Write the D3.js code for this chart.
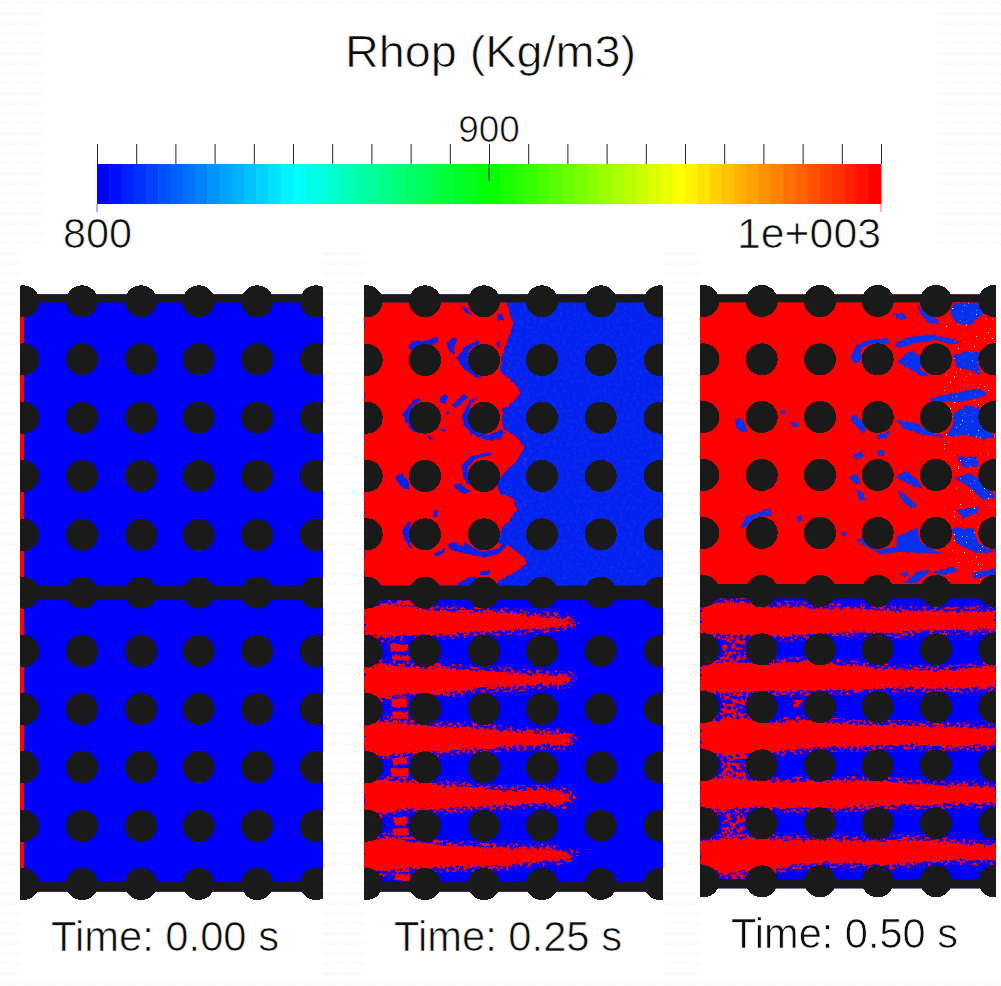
<!DOCTYPE html>
<html>
<head>
<meta charset="utf-8">
<style>
  html, body { margin: 0; padding: 0; background: #fff; }
  svg { display: block; }
  text { font-family: "Liberation Sans", sans-serif; fill: #0c0c0c; stroke: #fff; stroke-width: .7px; }
</style>
<script src="https://cdn.jsdelivr.net/npm/d3@7"></script>
</head>
<body>
<div class="chart"></div>
<script>
// Colour bar values
const barDomain = [800, 850, 900, 950, 1000];
const barColours = ["#0000ff", "#00ffff", "#00ff00", "#ffff00", "#ff0000"];
const barBands = d3.range(64);
const barTicks = d3.range(800, 1001, 10);
const barLabels = ["800", "900", "1e+003"];
const title = "Rhop (Kg/m3)";
const times = ["Time: 0.00 s", "Time: 0.25 s", "Time: 0.50 s"];

// Pillar centres, in sample units (3 units per screen pixel)
const colsA = [70, 246, 423, 596, 772, 948];
const rowsA = [64, 238, 413, 588, 765, 938, 1113, 1287, 1461, 1638, 1812];
const colsB = [50, 225, 402, 576, 752, 929];
const rowsB = [64, 240, 413, 588, 763, 938, 1113, 1287, 1462, 1637, 1812];
const colsC = [40, 215, 390, 563, 738, 913];
const rowsC = [63, 238, 411, 585, 759, 933, 1108, 1281, 1456, 1630, 1804];

// Channel walls [top, bottom]
const wallsA = [[43, 67], [917, 960], [1805, 1835]];
const wallsC = [[43, 67], [912, 955], [1798, 1825]];

// t = 0: thin film of heavy fluid on the inlet
const filmA = [[60, 67], [72, 67], [72, 1805], [60, 1805]];

// t = 0.25, upper channel: heavy fluid front and trapped light pockets
const frontB = [[42, 67], [470, 67], [490, 130], [470, 190], [455, 230], [450, 275], [490, 305], [512, 340],
  [480, 375], [455, 410], [460, 445], [500, 470], [523, 500], [500, 545], [470, 570], [440, 610], [450, 640],
  [490, 655], [502, 690], [480, 720], [455, 745], [445, 790], [480, 800], [520, 830], [530, 850], [500, 875],
  [450, 900], [440, 917], [42, 917]];
const pocketsB = [
  [[175, 205], [185, 185], [230, 180], [260, 170], [265, 185], [240, 195], [200, 205], [185, 210]],
  [[290, 190], [310, 172], [322, 178], [310, 205], [315, 220], [300, 218]],
  [[320, 235], [345, 200], [385, 180], [390, 190], [360, 205], [352, 240], [360, 265], [395, 295], [375, 290], [340, 265]],
  [[335, 80], [345, 80], [365, 105], [350, 100]],
  [[440, 105], [455, 100], [462, 120], [445, 120]],
  [[437, 190], [450, 185], [450, 205]],
  [[158, 405], [185, 365], [205, 355], [215, 360], [190, 375], [178, 405], [190, 445], [215, 460], [190, 455], [170, 430]],
  [[268, 355], [285, 342], [295, 350], [285, 370], [272, 368]],
  [[305, 375], [340, 345], [355, 350], [330, 375], [312, 382]],
  [[350, 380], [360, 360], [385, 352], [365, 368], [355, 400], [358, 430], [385, 460], [430, 462], [450, 448], [465, 455], [450, 478], [410, 480], [370, 465], [345, 440], [335, 410]],
  [[455, 385], [470, 380], [475, 395], [460, 400]],
  [[335, 555], [360, 530], [420, 515], [425, 525], [380, 535], [355, 560], [360, 600], [380, 630], [350, 610], [340, 590]],
  [[138, 585], [155, 578], [175, 605], [178, 628], [160, 625], [140, 605]],
  [[312, 615], [330, 610], [360, 635], [345, 642], [320, 630]],
  [[155, 755], [175, 725], [185, 725], [178, 750], [180, 790], [190, 805], [175, 800]],
  [[250, 695], [262, 688], [262, 710], [250, 712]],
  [[292, 795], [310, 785], [340, 800], [345, 785], [370, 805], [400, 815], [445, 805], [460, 790], [470, 800], [440, 825], [400, 832], [340, 820], [305, 810]],
  [[250, 822], [285, 805], [285, 815], [262, 830]],
  [[230, 465], [250, 475], [235, 480]],
  [[272, 445], [288, 450], [282, 460]],
  [[285, 395], [298, 395], [292, 405]],
  [[310, 917], [360, 890], [380, 895], [365, 917]],
  [[390, 875], [420, 870], [418, 885], [392, 885]]
];

// t = 0.25, lower channel: streaks and the blobs behind the first pillars
const streaksB = [
  [[42, 985], [90, 972], [180, 980], [260, 992], [350, 995], [430, 995], [490, 1000], [540, 1008], [600, 1010], [650, 1015], [670, 1027], [650, 1040], [600, 1045], [540, 1048], [470, 1050], [400, 1055], [320, 1060], [260, 1065], [180, 1065], [90, 1072], [42, 1065]],
  [[42, 1165], [90, 1150], [180, 1162], [260, 1162], [340, 1170], [430, 1172], [500, 1180], [580, 1185], [650, 1185], [664, 1196], [650, 1210], [570, 1215], [480, 1220], [400, 1225], [320, 1235], [240, 1245], [180, 1240], [100, 1252], [42, 1245]],
  [[42, 1335], [90, 1320], [170, 1330], [260, 1340], [340, 1340], [420, 1348], [500, 1355], [580, 1360], [650, 1362], [665, 1378], [640, 1395], [560, 1395], [480, 1400], [400, 1405], [320, 1410], [240, 1420], [170, 1420], [100, 1428], [42, 1420]],
  [[42, 1510], [100, 1500], [170, 1505], [260, 1515], [340, 1520], [430, 1530], [520, 1530], [600, 1530], [650, 1540], [660, 1552], [640, 1572], [560, 1570], [480, 1575], [400, 1580], [320, 1585], [240, 1590], [170, 1585], [100, 1600], [42, 1595]],
  [[42, 1685], [110, 1672], [190, 1685], [280, 1695], [360, 1700], [430, 1705], [500, 1705], [580, 1705], [640, 1715], [666, 1725], [640, 1740], [560, 1745], [480, 1755], [400, 1760], [320, 1760], [240, 1765], [180, 1765], [100, 1775], [42, 1765]]
];
const blobsB = [
  [[140, 962], [180, 962], [195, 978], [140, 972]],
  [[120, 1092], [170, 1092], [175, 1112], [122, 1115]],
  [[125, 1125], [175, 1128], [178, 1142], [130, 1140]],
  [[125, 1257], [172, 1255], [172, 1282], [125, 1283]],
  [[125, 1295], [172, 1295], [175, 1316], [130, 1316]],
  [[128, 1435], [170, 1430], [172, 1455], [130, 1456]],
  [[122, 1466], [175, 1464], [175, 1488], [125, 1490]],
  [[128, 1612], [175, 1610], [170, 1635], [135, 1636]],
  [[128, 1645], [175, 1645], [175, 1666], [128, 1666]],
  [[135, 1785], [180, 1780], [180, 1803], [135, 1803]]
];

// t = 0.50, upper channel: light pockets left inside the heavy fluid
const pocketsC = [
  [[480, 235], [500, 195], [540, 180], [590, 175], [600, 190], [545, 190], [515, 205], [512, 245], [495, 250]],
  [[610, 195], [650, 172], [720, 165], [780, 175], [810, 185], [790, 195], [740, 180], [670, 190], [630, 205]],
  [[622, 245], [660, 212], [692, 225], [692, 270], [720, 290], [690, 285]],
  [[790, 225], [830, 215], [865, 215], [870, 285], [840, 270], [800, 262]],
  [[610, 100], [640, 100], [650, 118], [620, 115]],
  [[680, 70], [700, 95], [740, 115], [745, 135], [720, 130], [690, 100]],
  [[790, 70], [860, 68], [880, 100], [840, 135], [800, 130], [780, 100]],
  [[710, 360], [760, 345], [870, 325], [890, 345], [820, 365], [740, 365]],
  [[790, 400], [830, 375], [868, 385], [875, 440], [918, 470], [880, 478], [830, 465], [790, 470], [770, 465], [790, 430]],
  [[618, 420], [680, 430], [720, 455], [765, 472], [700, 465], [640, 445]],
  [[480, 410], [500, 405], [530, 445], [520, 460], [490, 430]],
  [[135, 420], [155, 415], [172, 450], [165, 460], [140, 445]],
  [[272, 392], [285, 390], [285, 402], [275, 402]],
  [[302, 428], [320, 425], [328, 438], [310, 442]],
  [[488, 525], [515, 515], [522, 530], [500, 540]],
  [[565, 512], [585, 512], [578, 528], [565, 526]],
  [[478, 590], [500, 582], [515, 615], [490, 610]],
  [[500, 632], [515, 630], [527, 660], [510, 662]],
  [[618, 590], [650, 572], [690, 610], [700, 630], [660, 615]],
  [[622, 630], [640, 640], [678, 675], [665, 685], [640, 665]],
  [[790, 595], [840, 580], [870, 600], [918, 650], [880, 660], [830, 615]],
  [[800, 530], [860, 530], [865, 560], [820, 560]],
  [[150, 745], [170, 710], [240, 685], [245, 705], [190, 715], [165, 745]],
  [[322, 710], [335, 708], [338, 722], [322, 722]],
  [[456, 755], [470, 755], [470, 768], [456, 768]],
  [[495, 780], [515, 775], [560, 810], [620, 800], [620, 770], [680, 745], [690, 785], [740, 815], [765, 820], [700, 820], [630, 815], [570, 822]],
  [[785, 745], [850, 745], [865, 790], [918, 815], [860, 820], [800, 790]],
  [[630, 885], [650, 872], [660, 890]],
  [[645, 908], [680, 875], [725, 870], [700, 890], [680, 908]],
  [[730, 875], [790, 860], [805, 875], [750, 885]],
  [[845, 880], [918, 865], [918, 885], [850, 895]],
  [[800, 690], [870, 680], [860, 700], [820, 715]],
  [[560, 465], [600, 455], [590, 475], [565, 475]]
];
const speckleC = [[760, 67], [918, 67], [918, 912], [770, 912], [760, 500]];

// t = 0.50, lower channel
const streaksC = [
  [[30, 985], [80, 970], [150, 965], [220, 982], [300, 978], [400, 985], [500, 985], [600, 992], [700, 992], [800, 995], [918, 990], [918, 1048], [800, 1050], [700, 1050], [620, 1060], [520, 1055], [430, 1060], [350, 1065], [260, 1070], [170, 1065], [100, 1065], [30, 1060]],
  [[30, 1162], [100, 1145], [180, 1150], [260, 1148], [340, 1145], [430, 1150], [520, 1162], [620, 1168], [720, 1170], [800, 1170], [918, 1155], [918, 1220], [820, 1225], [720, 1225], [620, 1222], [500, 1230], [400, 1230], [300, 1235], [200, 1235], [100, 1240], [30, 1235]],
  [[30, 1325], [100, 1320], [170, 1315], [250, 1330], [340, 1320], [440, 1330], [540, 1335], [640, 1335], [760, 1340], [918, 1345], [918, 1395], [800, 1400], [700, 1395], [600, 1395], [500, 1400], [400, 1400], [300, 1410], [200, 1420], [100, 1425], [30, 1410]],
  [[30, 1495], [110, 1490], [180, 1500], [260, 1505], [340, 1505], [430, 1505], [560, 1500], [700, 1515], [800, 1518], [918, 1520], [918, 1572], [800, 1570], [700, 1575], [600, 1575], [500, 1580], [400, 1585], [300, 1585], [200, 1580], [100, 1590], [30, 1580]],
  [[30, 1685], [120, 1675], [220, 1675], [320, 1680], [430, 1680], [540, 1685], [640, 1678], [760, 1685], [850, 1695], [918, 1695], [918, 1740], [800, 1740], [700, 1745], [600, 1755], [500, 1750], [400, 1750], [320, 1755], [240, 1770], [150, 1775], [90, 1780], [30, 1755]]
];
const blobsC = [
  [[95, 1075], [165, 1075], [168, 1140], [100, 1145]],
  [[90, 1248], [170, 1245], [170, 1320], [90, 1320]],
  [[95, 1425], [170, 1420], [165, 1490], [95, 1490]],
  [[95, 1600], [165, 1600], [165, 1670], [95, 1670]],
  [[105, 1778], [165, 1778], [165, 1798], [105, 1798]],
  [[310, 1260], [340, 1260], [340, 1282], [310, 1282]]
];

// Layout
const width = 1001, height = 986;
const pillarRadius = 16;
const panels = [
  {id: "a", time: times[0], left: 20, right: 323, top: 280, u0: 60, u1: 969, cols: colsA, rows: rowsA, walls: wallsA, textX: 51, textW: 228, textY: 951},
  {id: "b", time: times[1], left: 364, right: 663, top: 280, u0: 42, u1: 939, cols: colsB, rows: rowsB, walls: wallsA, textX: 394, textW: 228, textY: 951},
  {id: "c", time: times[2], left: 700, right: 996, top: 280, u0: 30, u1: 918, cols: colsC, rows: rowsC, walls: wallsC, textX: 731, textW: 227, textY: 948}
];

const svg = d3.select(".chart").append("svg")
    .attr("width", width)
    .attr("height", height);
const defs = svg.append("defs");

// Faint background weave
const weave = defs.append("pattern")
    .attr("id", "weave")
    .attr("patternUnits", "userSpaceOnUse")
    .attr("width", 10)
    .attr("height", 10);
weave.append("path")
    .attr("d", "M0 5L2.5 2L5 5L7.5 2L10 5")
    .attr("fill", "none")
    .attr("stroke", "#f3f3f3");

// Jagged edge for the fluid interfaces
function jagFilter(id, scale, freq){
  const f = defs.append("filter").attr("id", id)
      .attr("x", "-5%").attr("y", "-5%").attr("width", "110%").attr("height", "110%")
      .attr("color-interpolation-filters", "sRGB");
  f.append("feTurbulence").attr("type", "fractalNoise").attr("baseFrequency", freq).attr("numOctaves", 2).attr("seed", 4).attr("result", "n");
  f.append("feDisplacementMap").attr("in", "SourceGraphic").attr("in2", "n").attr("scale", scale).attr("xChannelSelector", "R").attr("yChannelSelector", "G");
}
jagFilter("jag", 8, .3);
jagFilter("jagSmall", 3.5, .3);

// Keeps only part of a shape, picked by noise
function speckleFilter(id, freq, gain, cut, seed){
  const f = defs.append("filter").attr("id", id)
      .attr("x", "-5%").attr("y", "-5%").attr("width", "110%").attr("height", "110%")
      .attr("color-interpolation-filters", "sRGB");
  f.append("feTurbulence").attr("type", "fractalNoise").attr("baseFrequency", freq).attr("numOctaves", 2).attr("seed", seed).attr("result", "n");
  f.append("feColorMatrix").attr("in", "n").attr("type", "matrix")
      .attr("values", `0 0 0 0 0 0 0 0 0 0 0 0 0 0 0 ${gain} 0 0 0 ${cut}`).attr("result", "m");
  f.append("feComposite").attr("in", "SourceGraphic").attr("in2", "m").attr("operator", "in");
}
speckleFilter("specWhite", .5, 14, -9.9, 7);
speckleFilter("specFringe", .3, 12, -6.4, 11);
speckleFilter("specBlob", .22, 12, -5.6, 5);

// Lighter mottling over the displaced light fluid
const mottle = defs.append("filter").attr("id", "mottle")
    .attr("x", "-5%").attr("y", "-5%").attr("width", "110%").attr("height", "110%")
    .attr("color-interpolation-filters", "sRGB");
mottle.append("feTurbulence").attr("type", "fractalNoise").attr("baseFrequency", .3).attr("numOctaves", 2).attr("seed", 3).attr("result", "n");
mottle.append("feColorMatrix").attr("in", "n").attr("type", "matrix")
    .attr("values", "0 0 0 0 0 0 0 0 0 .22 0 0 0 0 1 2 0 0 0 -.85").attr("result", "t");
mottle.append("feComposite").attr("in", "t").attr("in2", "SourceAlpha").attr("operator", "in").attr("result", "c");
const mottleMerge = mottle.append("feMerge");
mottleMerge.append("feMergeNode").attr("in", "SourceGraphic");
mottleMerge.append("feMergeNode").attr("in", "c");

svg.append("rect").attr("width", width).attr("height", height).attr("fill", "url(#weave)");
svg.append("rect").attr("x", 43).attr("y", 10).attr("width", 894).attr("height", 242).attr("fill", "#fff");
panels.forEach(p => {
  svg.append("rect").attr("x", p.left).attr("y", 252)
      .attr("width", (p.id === "c" ? width : p.right) - p.left).attr("height", 726).attr("fill", "#fff");
});

// Colour bar
const xBar = d3.scaleLinear().domain([800, 1000]).range([97, 881]);
const colourBar = d3.scaleLinear().domain(barDomain).range(barColours);
const bandValue = d3.scaleLinear().domain([0, barBands.length - 1]).range([800, 1000]);
const bandWidth = (xBar(1000) - xBar(800)) / barBands.length;
const barTop = 164, barBottom = 204;

svg.append("g").selectAll("rect")
    .data(barBands)
  .enter().append("rect")
    .attr("x", d => xBar(800) + d * bandWidth)
    .attr("y", barTop)
    .attr("width", bandWidth + .5)
    .attr("height", barBottom - barTop)
    .attr("fill", d => colourBar(bandValue(d)));

const barAxis = svg.append("g")
    .attr("transform", "translate(0," + barTop + ")")
    .call(d3.axisTop(xBar).tickValues(barTicks).tickSize(20).tickFormat(""));
barAxis.select(".domain").remove();
barAxis.selectAll("line").attr("stroke", "#222").attr("stroke-width", 1);

svg.append("line")
    .attr("x1", xBar(900)).attr("x2", xBar(900))
    .attr("y1", barTop).attr("y2", 181)
    .attr("stroke", "#222");
svg.selectAll(".end-tick")
    .data([800, 1000])
  .enter().append("line")
    .attr("class", "end-tick")
    .attr("x1", d => xBar(d)).attr("x2", d => xBar(d))
    .attr("y1", barBottom).attr("y2", 212)
    .attr("stroke", d => colourBar(d))
    .attr("opacity", .6);

svg.append("text")
    .attr("x", 345).attr("y", 67)
    .attr("font-size", 44)
    .attr("textLength", 291)
    .attr("lengthAdjust", "spacingAndGlyphs")
    .text(title);
svg.append("text")
    .attr("x", xBar(900)).attr("y", 142)
    .attr("text-anchor", "middle")
    .attr("font-size", 37)
    .text(barLabels[1]);
svg.append("text")
    .attr("x", 63).attr("y", 248)
    .attr("font-size", 42)
    .attr("textLength", 69)
    .attr("lengthAdjust", "spacingAndGlyphs")
    .text(barLabels[0]);
svg.append("text")
    .attr("x", 737).attr("y", 248)
    .attr("font-size", 42)
    .attr("textLength", 144)
    .attr("lengthAdjust", "spacingAndGlyphs")
    .text(barLabels[2]);

// Panels
const poly = (x, y) => d3.line().x(d => x(d[0])).y(d => y(d[1]));

panels.forEach(p => {
  const x = d3.scaleLinear().domain([p.u0, p.u1]).range([p.left, p.right]);
  const y = d3.scaleLinear().domain([0, 2000]).range([p.top, p.top + 2000 / 3]);
  const path = d => poly(x, y)(d) + "Z";
  const [wallTop, wallMid, wallBottom] = p.walls;
  const midY = (wallMid[0] + wallMid[1]) / 2;

  defs.append("clipPath").attr("id", "clip-" + p.id)
    .append("rect")
      .attr("x", p.left).attr("y", y(0))
      .attr("width", p.right - p.left).attr("height", 640);

  const g = svg.append("g").attr("clip-path", `url(#clip-${p.id})`);

  const fluid = (top, bottom, fill) => g.append("rect")
      .attr("x", p.left).attr("y", y(top))
      .attr("width", p.right - p.left).attr("height", y(bottom) - y(top))
      .attr("fill", fill);

  if (p.id === "a") {
    fluid(wallTop[0], wallBottom[1], "#0000ff");
    g.append("path").attr("d", path(filmA)).attr("fill", "#ff0000");
  }
  if (p.id === "b") {
    fluid(wallTop[0], midY, "#0720ec").attr("filter", "url(#mottle)");
    g.append("path").attr("d", path(frontB)).attr("fill", "#ff0000").attr("filter", "url(#jagSmall)");
    g.append("g").attr("filter", "url(#jagSmall)")
      .selectAll("path").data(pocketsB)
      .enter().append("path").attr("d", path).attr("fill", "#0720ec");
    fluid(midY, wallBottom[1], "#0000ff");
  }
  if (p.id === "c") {
    fluid(wallTop[0], midY, "#ff0000");
    g.append("g").attr("filter", "url(#jagSmall)")
      .selectAll("path").data(pocketsC)
      .enter().append("path").attr("d", path).attr("fill", "#0a30e8").attr("filter", "url(#mottle)");
    g.append("path").attr("d", path(speckleC)).attr("fill", "#fff").attr("filter", "url(#specWhite)");
    fluid(midY, wallBottom[1], "#0000ff");
  }

  const streaks = p.id === "b" ? streaksB : p.id === "c" ? streaksC : [];
  const blobs = p.id === "b" ? blobsB : p.id === "c" ? blobsC : [];
  if (streaks.length) {
    g.append("g").attr("filter", "url(#specFringe)")
      .selectAll("path").data(streaks)
      .enter().append("path").attr("d", path)
        .attr("fill", "none").attr("stroke", "#ff0000").attr("stroke-width", 10);
    g.append("g").attr("filter", "url(#jag)")
      .selectAll("path").data(streaks)
      .enter().append("path").attr("d", path).attr("fill", "#ff0000");
    g.append("g").attr("filter", p.id === "c" ? "url(#specBlob)" : "url(#jagSmall)")
      .selectAll("path").data(blobs)
      .enter().append("path").attr("d", path).attr("fill", "#ff0000");
  }

  // Walls and pillars go on top of the fluid
  g.selectAll(".wall")
      .data(p.walls)
    .enter().append("rect")
      .attr("class", "wall")
      .attr("x", p.left)
      .attr("y", d => y(d[0]))
      .attr("width", p.right - p.left)
      .attr("height", d => y(d[1]) - y(d[0]))
      .attr("fill", "#1a1a1a");
  g.selectAll(".pillar")
      .data(d3.cross(p.cols, p.rows))
    .enter().append("circle")
      .attr("class", "pillar")
      .attr("cx", d => x(d[0]))
      .attr("cy", d => y(d[1]))
      .attr("r", pillarRadius)
      .attr("fill", "#1a1a1a")
      .attr("shape-rendering", "crispEdges");

  svg.append("text")
      .attr("x", p.textX).attr("y", p.textY)
      .attr("font-size", 43)
      .attr("textLength", p.textW)
      .attr("lengthAdjust", "spacingAndGlyphs")
      .text(p.time);
});
</script>
</body>
</html>
